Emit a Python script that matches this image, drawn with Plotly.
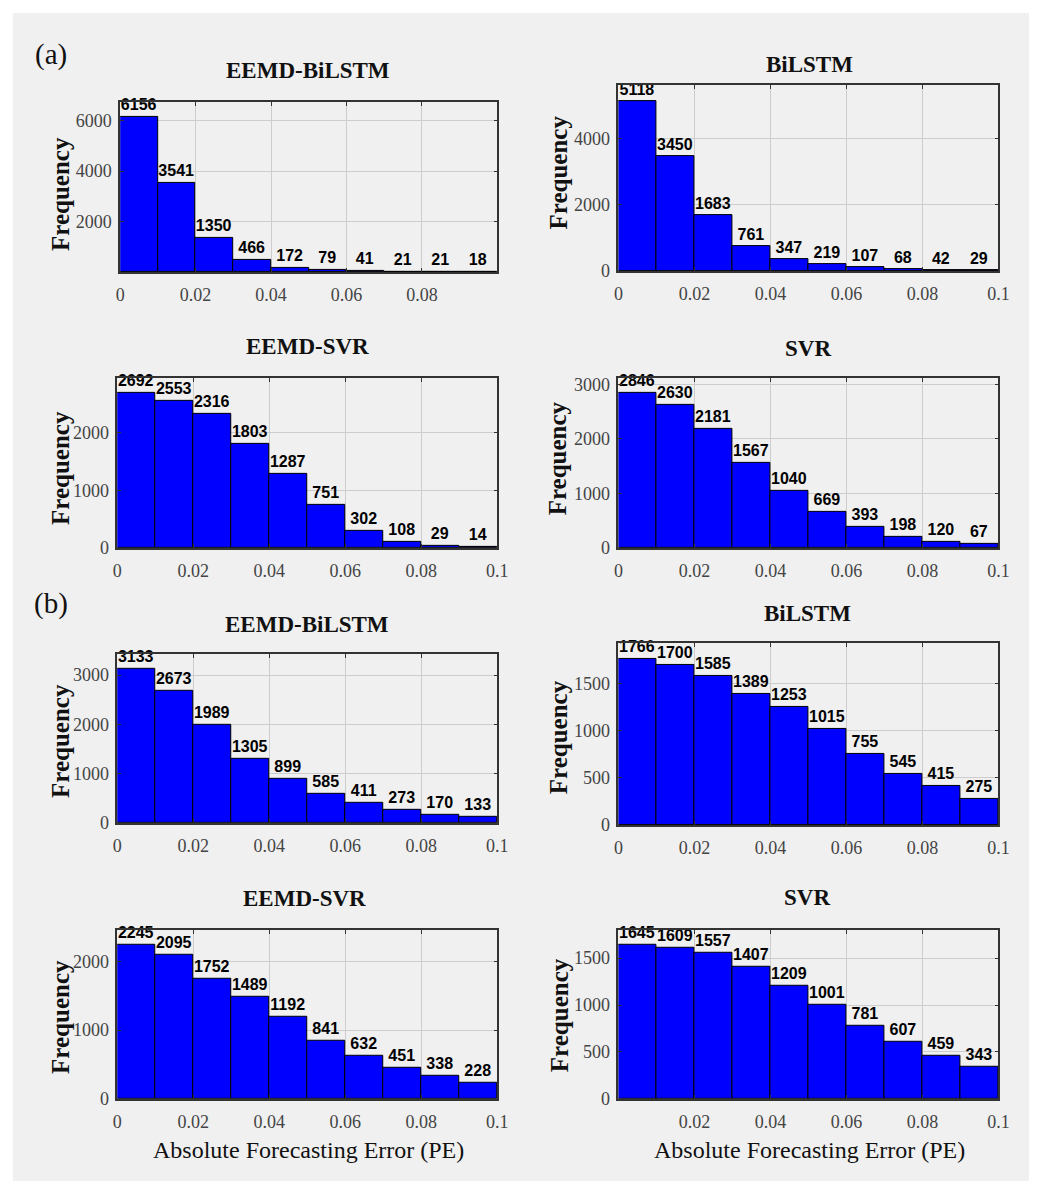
import plotly.graph_objects as go

W, H = 1040, 1191

# ---------------- data ----------------
bin_left = [0.00, 0.01, 0.02, 0.03, 0.04, 0.05, 0.06, 0.07, 0.08, 0.09]
bin_width = 0.01

a_eemd_bilstm = [6156, 3541, 1350, 466, 172, 79, 41, 21, 21, 18]
a_bilstm = [5118, 3450, 1683, 761, 347, 219, 107, 68, 42, 29]
a_eemd_svr = [2692, 2553, 2316, 1803, 1287, 751, 302, 108, 29, 14]
a_svr = [2846, 2630, 2181, 1567, 1040, 669, 393, 198, 120, 67]
b_eemd_bilstm = [3133, 2673, 1989, 1305, 899, 585, 411, 273, 170, 133]
b_bilstm = [1766, 1700, 1585, 1389, 1253, 1015, 755, 545, 415, 275]
b_eemd_svr = [2245, 2095, 1752, 1489, 1192, 841, 632, 451, 338, 228]
b_svr = [1645, 1609, 1557, 1407, 1209, 1001, 781, 607, 459, 343]

titles = ["EEMD-BiLSTM", "BiLSTM", "EEMD-SVR", "SVR",
          "EEMD-BiLSTM", "BiLSTM", "EEMD-SVR", "SVR"]
series = [a_eemd_bilstm, a_bilstm, a_eemd_svr, a_svr,
          b_eemd_bilstm, b_bilstm, b_eemd_svr, b_svr]

x_tickvals = [0, 0.02, 0.04, 0.06, 0.08, 0.1]
x_ticktext = ["0", "0.02", "0.04", "0.06", "0.08", "0.1"]
y_tickvals = [
    [2000, 4000, 6000],
    [0, 2000, 4000],
    [0, 1000, 2000],
    [0, 1000, 2000, 3000],
    [0, 1000, 2000, 3000],
    [0, 500, 1000, 1500],
    [0, 1000, 2000],
    [0, 500, 1000, 1500],
]
y_top_factor = 1.095
xlabel = "Absolute Forecasting Error (PE)"
ylabel = "Frequency"

# ---------------- layout (pixel boxes) ----------------
boxes = [
    (117, 500, 100, 272), (623, 1009, 83, 271),
    (114, 500, 379, 551), (623, 1009, 379, 551),
    (114, 500, 658, 829), (623, 1009, 647, 831),
    (114, 500, 937, 1108), (623, 1009, 937, 1108),
]
title_pos = [(308, 68), (817, 62), (307, 347), (816, 349),
             (307, 628), (815, 617), (304, 905), (815, 904)]
ylab_pos = [(57, 193), (562, 171), (57, 470), (562, 460),
            (57, 746), (563, 742), (57, 1025), (564, 1023)]

def px(x):
    return x / W

def py(y):
    return 1 - y / H

SERIF = "Liberation Serif"
SANS = "Liberation Sans"

fig = go.Figure()
annotations = []

for i, (vals, (l, r, t, b)) in enumerate(zip(series, boxes)):
    n = "" if i == 0 else str(i + 1)
    xa, ya = "x" + n, "y" + n
    fig.add_trace(go.Bar(
        x=[v + bin_width / 2 for v in bin_left], y=vals, width=bin_width,
        xaxis=xa, yaxis=ya,
        marker=dict(color="#0000ff", line=dict(color="#000000", width=1)),
        text=vals, texttemplate="%{text}", textposition="outside",
        constraintext="none", cliponaxis=False,
        textfont=dict(family=SANS, size=16, color="#000000", weight="bold"),
        showlegend=False, hoverinfo="x+y",
    ))
    xt_vals, xt_text = list(x_tickvals), list(x_ticktext)
    if i == 0:
        xt_vals, xt_text = xt_vals[:-1], xt_text[:-1]
    if i == 7:
        xt_vals, xt_text = xt_vals[1:], xt_text[1:]
    axis_common = dict(
        showline=True, linecolor="#333333", linewidth=1.5, mirror="ticks",
        ticks="inside", ticklen=4, tickcolor="#333333",
        showgrid=True, gridcolor="#cdcdcd", gridwidth=1,
        zeroline=False,
        tickfont=dict(family=SERIF, size=18, color="#444444"),
    )
    fig.layout["xaxis" + n] = dict(
        domain=[px(l), px(r)], anchor=ya, range=[0, 0.1],
        tickvals=xt_vals, ticktext=xt_text, ticklabelstandoff=6, **axis_common)
    fig.layout["yaxis" + n] = dict(
        domain=[py(b), py(t)], anchor=xa, range=[0, max(vals) * y_top_factor],
        tickvals=y_tickvals[i], ticklabelstandoff=3, **axis_common)

    tx, ty = title_pos[i]
    annotations.append(dict(
        x=px(tx), y=py(ty), xref="paper", yref="paper", text=titles[i],
        showarrow=False, xanchor="center", yanchor="middle",
        font=dict(family=SERIF, size=23, color="#111111", weight="bold")))
    lx, lyy = ylab_pos[i]
    annotations.append(dict(
        x=px(lx), y=py(lyy), xref="paper", yref="paper", text=ylabel,
        showarrow=False, xanchor="center", yanchor="middle", textangle=-90,
        font=dict(family=SERIF, size=25, color="#111111", weight="bold")))

for cx in (308, 817):
    annotations.append(dict(
        x=px(cx), y=py(1160), xref="paper", yref="paper", text=xlabel,
        showarrow=False, xanchor="center", yanchor="middle",
        font=dict(family=SERIF, size=24, color="#111111")))

annotations.append(dict(x=px(47), y=py(52), xref="paper", yref="paper", text="(a)",
                        showarrow=False, xanchor="center", yanchor="middle",
                        font=dict(family=SERIF, size=29, color="#111111")))
annotations.append(dict(x=px(47), y=py(607), xref="paper", yref="paper", text="(b)",
                        showarrow=False, xanchor="center", yanchor="middle",
                        font=dict(family=SERIF, size=29, color="#111111")))

fig.update_layout(
    width=W, height=H,
    margin=dict(l=0, r=0, t=0, b=0),
    paper_bgcolor="#ffffff",
    plot_bgcolor="#e6e6e6",
    bargap=0,
    annotations=annotations,
    shapes=[dict(type="rect", xref="paper", yref="paper", layer="below",
                 x0=px(8), x1=1, y0=0, y1=py(10),
                 fillcolor="#f0f0f0", line=dict(width=0))],
)

fig.write_html("out.html")
